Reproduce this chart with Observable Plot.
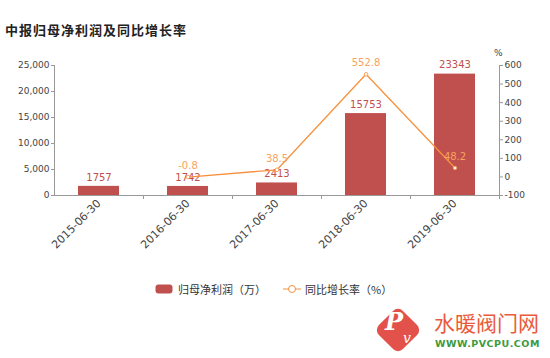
<!DOCTYPE html>
<html><head><meta charset="utf-8">
<script src="https://cdn.jsdelivr.net/npm/d3@7"></script>
<script src="https://cdn.jsdelivr.net/npm/@observablehq/plot@0.6"></script>
<style>
body{margin:0;background:#fff;font-family:"Noto Sans CJK SC","DejaVu Sans",sans-serif;}
#wrap{position:relative;width:550px;height:358px;overflow:hidden;background:#fff}
#title{position:absolute;left:5px;top:22px;font-size:13px;font-weight:bold;color:#222;letter-spacing:1px;line-height:16px;white-space:nowrap}
#chart{position:absolute;left:0;top:45px}
#legend{position:absolute;left:0;top:281px;width:550px;height:16px;font-size:11px;color:#333}
#legend .item{position:absolute;top:0;display:flex;align-items:center;height:16px;white-space:nowrap}
#wm{position:absolute;left:0;top:0;width:550px;height:358px}
#wm div{white-space:nowrap}
</style></head><body>
<div id="wrap">
<div id="title">中报归母净利润及同比增长率</div>
<div id="chart"></div>
<div id="legend">
  <div class="item" style="left:155px"><svg width="18" height="10" style="margin-right:5px"><rect x="0.5" y="0.5" width="17" height="9" rx="3" fill="#c0504d"/></svg><span>归母净利润（万）</span></div>
  <div class="item" style="left:283px"><svg width="18" height="10" style="margin-right:4px"><line x1="0" y1="5" x2="18" y2="5" stroke="#f7913d" stroke-width="1"/><circle cx="9" cy="5" r="3.5" fill="#fff" stroke="#f7913d"/></svg><span>同比增长率（%）</span></div>
</div>
<div id="wm">
  <div style="position:absolute;left:381px;top:313px;width:34px;height:34px;background:#e2524a;border-radius:7px;transform:rotate(45deg)"></div>
  <div style="position:absolute;left:385px;top:308px;font:italic bold 24px/28px 'DejaVu Serif',serif;color:#fff">P</div>
  <div style="position:absolute;left:403px;top:330px;font:italic 14px/16px 'DejaVu Serif',serif;color:#fff">v</div>
  <div style="position:absolute;left:434px;top:309px;width:115px;font-size:21px;color:#ea5a3c;line-height:26px">水暖阀门网</div>
  <div style="position:absolute;left:435px;top:338px;width:115px;font:bold 9.5px/12px 'DejaVu Sans',sans-serif;color:#3c9a3c;letter-spacing:0.5px">WWW.PVCPU.COM</div>
</div>
</div>
<script>
const dates = ["2015-06-30","2016-06-30","2017-06-30","2018-06-30","2019-06-30"];
const profit = [1757,1742,2413,15753,23343];
const growth = [null,-0.8,38.5,552.8,48.2];
const leftTicks = [0,5000,10000,15000,20000,25000];
const rightTicks = [-100,0,100,200,300,400,500,600];

const LMAX = 25000, RMIN = -100, RMAX = 600;
const toLeft = v => (v - RMIN) / (RMAX - RMIN) * LMAX;
const fromLeft = v => Math.round(v / LMAX * (RMAX - RMIN) + RMIN);

const data = dates.map((d, i) => ({date: d, profit: profit[i], growth: growth[i]}));
const lineData = data.filter(d => d.growth != null);

const barColor = "#c0504d";
const lineColor = "#f7913d";
const lineLabel = "#f5a35e";
const axisColor = "#999";
const textColor = "#444";
const half = 445 / 5 / 2;

const chart = Plot.plot({
  width: 550,
  height: 230,
  marginLeft: 54,
  marginRight: 51,
  marginTop: 20,
  marginBottom: 80,
  style: {fontFamily: "DejaVu Sans, sans-serif", background: "transparent"},
  x: {type: "band", domain: dates, paddingInner: 0.54, paddingOuter: 0.27, axis: null, label: null},
  y: {domain: [0, LMAX], axis: null, label: null},
  marks: [
    Plot.barY(data, {x: "date", y: "profit", fill: barColor}),
    Plot.ruleY([0], {stroke: axisColor}),
    Plot.ruleX([dates[0]], {dx: -half, stroke: axisColor}),
    Plot.ruleX([dates[4]], {dx: half, stroke: axisColor}),
    Plot.text(data, {x: "date", y: "profit", text: d => String(d.profit), dy: -9, fill: barColor, fontSize: 10}),
    Plot.line(lineData, {x: "date", y: d => toLeft(d.growth), stroke: lineColor, strokeWidth: 1.3}),
    Plot.dot(lineData, {x: "date", y: d => toLeft(d.growth), r: 1.8, fill: "#fff", stroke: lineColor, strokeWidth: 0.8}),
    Plot.text(lineData, {x: "date", y: d => toLeft(d.growth), text: d => d.growth.toFixed(1), dy: -11, fill: lineLabel, fontSize: 10}),
    Plot.axisY(leftTicks, {anchor: "left", label: null, tickSize: 3, tickPadding: 2, tickFormat: d3.format(","), fontSize: 9, color: textColor, stroke: axisColor}),
    Plot.axisY(rightTicks.map(toLeft), {anchor: "right", label: null, tickSize: 3, tickPadding: 2, tickFormat: d => String(fromLeft(d)), fontSize: 9, color: textColor, stroke: axisColor}),
    Plot.axisX({label: null, tickSize: 0, tickRotate: -45, tickPadding: 6, fontSize: 11, color: textColor}),
    Plot.axisX({label: null, tickSize: 4, tickFormat: () => "", dx: half, stroke: axisColor}),
    Plot.text(["%"], {frameAnchor: "top-right", dx: 3, dy: -16, fontSize: 9, fill: textColor, textAnchor: "end"})
  ]
});
document.getElementById("chart").appendChild(chart);
</script>
</body></html>
